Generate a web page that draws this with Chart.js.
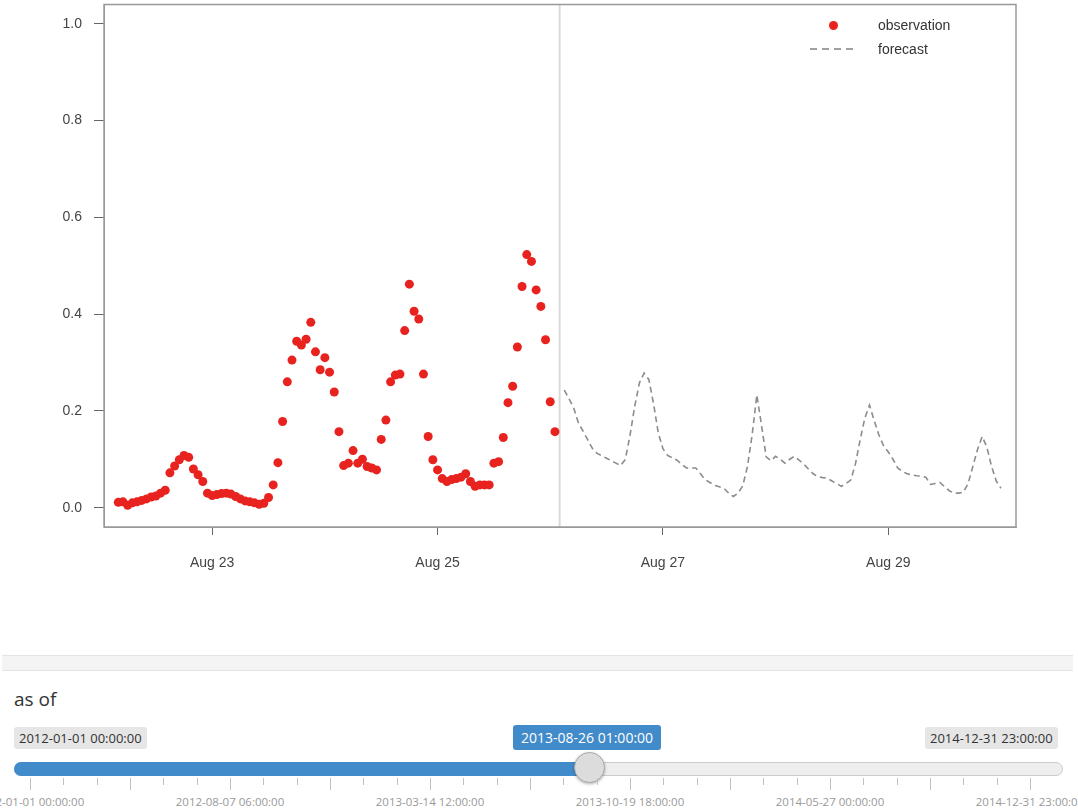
<!DOCTYPE html>
<html>
<head>
<meta charset="utf-8">
<script src="https://cdn.jsdelivr.net/npm/chart.js@4/dist/chart.umd.min.js"></script>
<style>
  html, body { margin:0; padding:0; background:#fff; width:1078px; height:811px; overflow:hidden; }
  #wrap { position:absolute; left:0; top:0; width:1078px; height:600px; }
  .leg { position:absolute; font:14px "Liberation Sans", Arial, sans-serif; color:#333; line-height:16px; }
  #band { position:absolute; left:2px; top:655px; width:1071px; height:14px; background:#f4f4f4; border-top:1px solid #e4e4e4; border-bottom:1px solid #e4e4e4; }
  #asof { position:absolute; left:14px; top:686px; font:19px "Open Sans", "Liberation Sans", sans-serif; color:#333; }
  .lab { position:absolute; font:13px "Open Sans", sans-serif; line-height:22px; height:22px; padding:0 5px; border-radius:3px; white-space:nowrap; }
  .gray { background:#e6e6e6; color:#333; }
  .blue { background:#428bca; color:#fff; top:725px; height:25px; line-height:25px; font-size:14px; padding:0 8px; }
  #track { position:absolute; left:14px; top:762px; width:1047px; height:12px; border-radius:7px; background:#eee; border:1px solid #ccc; }
  #fill { position:absolute; left:14px; top:762px; width:578px; height:14px; border-radius:7px 0 0 7px; background:#428bca; }
  #handle { position:absolute; left:574px; top:752px; width:31px; height:31px; border-radius:50%; background:#dcdcdc; border:1px solid #aaa; box-shadow:0 1px 3px rgba(0,0,0,0.3); box-sizing:border-box; }
  .tk { position:absolute; width:1px; background:#b8c4d0; }
  .gl { position:absolute; top:794px; font:11.5px "Open Sans", sans-serif; color:#999; white-space:nowrap; transform:translateX(-50%); }
</style>
</head>
<body>
<div id="wrap"><canvas id="c" width="1078" height="600"></canvas></div>

<div class="leg" style="left:829px;top:21px;width:9px;height:9px;border-radius:50%;background:#e8231f;"></div>
<div class="leg" style="left:878px;top:17px;">observation</div>
<div class="leg" style="left:810px;top:48px;width:47px;height:2px;background:repeating-linear-gradient(90deg,#a0a0a0 0 7px,transparent 7px 12px);"></div>
<div class="leg" style="left:878px;top:41px;">forecast</div>

<div id="band"></div>
<div id="asof">as of</div>
<div class="lab gray" style="left:14px;top:727px;">2012-01-01 00:00:00</div>
<div class="lab blue" style="left:513px;">2013-08-26 01:00:00</div>
<div class="lab gray" style="left:925px;top:727px;">2014-12-31 23:00:00</div>
<div id="track"></div>
<div id="fill"></div>
<div id="handle"></div>
<div id="grid"></div>

<script>
// ---- data (hours counted from 2013-08-22 00:00) ----
const obsStartHour = 4;
const obsValues = [
  0.011,0.012,0.005,0.010,0.012,0.015,0.018,0.022,0.024,0.030,
  0.036,0.072,0.086,0.099,0.108,0.104,0.080,0.068,0.054,0.030,
  0.025,0.027,0.029,0.030,0.028,0.023,0.018,0.014,0.012,0.010,
  0.007,0.009,0.021,0.047,0.093,0.178,0.260,0.305,0.344,0.336,
  0.348,0.383,0.322,0.285,0.310,0.280,0.239,0.157,0.087,0.092,
  0.118,0.092,0.100,0.085,0.082,0.078,0.141,0.181,0.260,0.274,
  0.276,0.366,0.462,0.406,0.390,0.276,0.147,0.099,0.078,0.060,
  0.054,0.058,0.060,0.063,0.070,0.054,0.044,0.047,0.047,0.047,
  0.092,0.095,0.145,0.217,0.251,0.332,0.457,0.523,0.509,0.450,
  0.416,0.347,0.219,0.157
];
const fcStartHour = 99;
const fcValues = [
  0.243,0.225,0.206,0.175,0.158,0.140,0.122,0.112,0.107,0.102,
  0.097,0.092,0.087,0.100,0.150,0.210,0.258,0.278,0.265,0.215,
  0.155,0.122,0.108,0.103,0.098,0.090,0.082,0.082,0.082,0.070,
  0.058,0.052,0.046,0.043,0.040,0.030,0.023,0.030,0.045,0.085,
  0.150,0.233,0.170,0.105,0.097,0.106,0.100,0.092,0.100,0.106,
  0.098,0.090,0.080,0.070,0.064,0.062,0.061,0.055,0.050,0.044,
  0.050,0.057,0.090,0.140,0.185,0.212,0.180,0.150,0.128,0.115,
  0.100,0.082,0.075,0.070,0.068,0.066,0.065,0.063,0.048,0.050,
  0.052,0.043,0.035,0.030,0.030,0.032,0.050,0.085,0.120,0.147,
  0.125,0.085,0.055,0.040
];
const asOfHour = 98;
const xTickHours = [24, 72, 120, 168];
const xTickLabels = ['Aug 23', 'Aug 25', 'Aug 27', 'Aug 29'];
const yTicks = [0, 0.2, 0.4, 0.6, 0.8, 1.0];
const sliderGridLabels = ['2012-01-01 00:00:00','2012-08-07 06:00:00','2013-03-14 12:00:00','2013-10-19 18:00:00','2014-05-27 00:00:00','2014-12-31 23:00:00'];

const obsPts = obsValues.map((v, i) => ({x: obsStartHour + i, y: v}));
const fcPts = fcValues.map((v, i) => ({x: fcStartHour + i, y: v}));

const boxPlugin = {
  id: 'box',
  beforeDatasetsDraw(chart) {
    const a = chart.chartArea, ctx = chart.ctx;
    const xs = chart.scales.x.getPixelForValue(asOfHour);
    ctx.save();
    ctx.strokeStyle = '#dadada'; ctx.lineWidth = 2;
    ctx.beginPath(); ctx.moveTo(xs, a.top); ctx.lineTo(xs, a.bottom); ctx.stroke();
    ctx.strokeStyle = '#999'; ctx.lineWidth = 1.5;
    ctx.strokeRect(a.left, a.top, a.right - a.left, a.bottom - a.top);
    ctx.restore();
  }
};

const font = {family: '"Liberation Sans", Arial, sans-serif', size: 14};
new Chart(document.getElementById('c'), {
  type: 'scatter',
  data: {
    datasets: [
      { label: 'forecast', data: fcPts, showLine: true, borderColor: '#8c8c8c', borderWidth: 1.6,
        borderDash: [6, 4], pointRadius: 0, fill: false, tension: 0 },
      { label: 'observation', data: obsPts, showLine: false, pointRadius: 4.5,
        backgroundColor: '#e8231f', borderColor: '#e8231f', borderWidth: 0 }
    ]
  },
  options: {
    responsive: false, animation: false,
    layout: { padding: { top: 3, right: 62, left: 0, bottom: 0 } },
    plugins: { legend: { display: false }, tooltip: { enabled: false } },
    scales: {
      x: {
        type: 'linear', min: 0.96, max: 195.2,
        afterBuildTicks: s => { s.ticks = xTickHours.map(v => ({value: v})); },
        afterFit: s => { s.height = 73; s.paddingLeft = 0; s.paddingRight = 0; },
        ticks: { callback: (v, i) => xTickLabels[i], autoSkip: false, maxRotation: 0, padding: 20, color: '#444', font },
        grid: { drawOnChartArea: false, drawTicks: true, tickLength: 8, tickColor: '#666' },
        border: { display: true, color: '#999' }
      },
      y: {
        type: 'linear', min: -0.04, max: 1.04,
        afterBuildTicks: s => { s.ticks = yTicks.map(v => ({value: v})); },
        afterFit: s => { s.width = 104; s.paddingTop = 0; s.paddingBottom = 0; },
        ticks: { callback: v => v.toFixed(1), padding: 12, color: '#444', font },
        grid: { drawOnChartArea: false, drawTicks: true, tickLength: 10, tickColor: '#666' },
        border: { display: true, color: '#999' }
      }
    }
  },
  plugins: [boxPlugin]
});

// slider grid (HTML)
const grid = document.getElementById('grid');
const g0 = 30, gStep = 100;
for (let i = 0; i <= 10; i++) {
  const x = g0 + i * gStep;
  grid.insertAdjacentHTML('beforeend', `<div class="tk" style="left:${x}px;top:778px;height:12px;"></div>`);
  if (i < 10) {
    [33, 67].forEach(d => grid.insertAdjacentHTML('beforeend', `<div class="tk" style="left:${x + d}px;top:778px;height:7px;"></div>`));
  }
}
sliderGridLabels.forEach((t, i) => {
  grid.insertAdjacentHTML('beforeend', `<div class="gl" style="left:${g0 + i * 200}px;">${t}</div>`);
});
</script>
</body>
</html>
